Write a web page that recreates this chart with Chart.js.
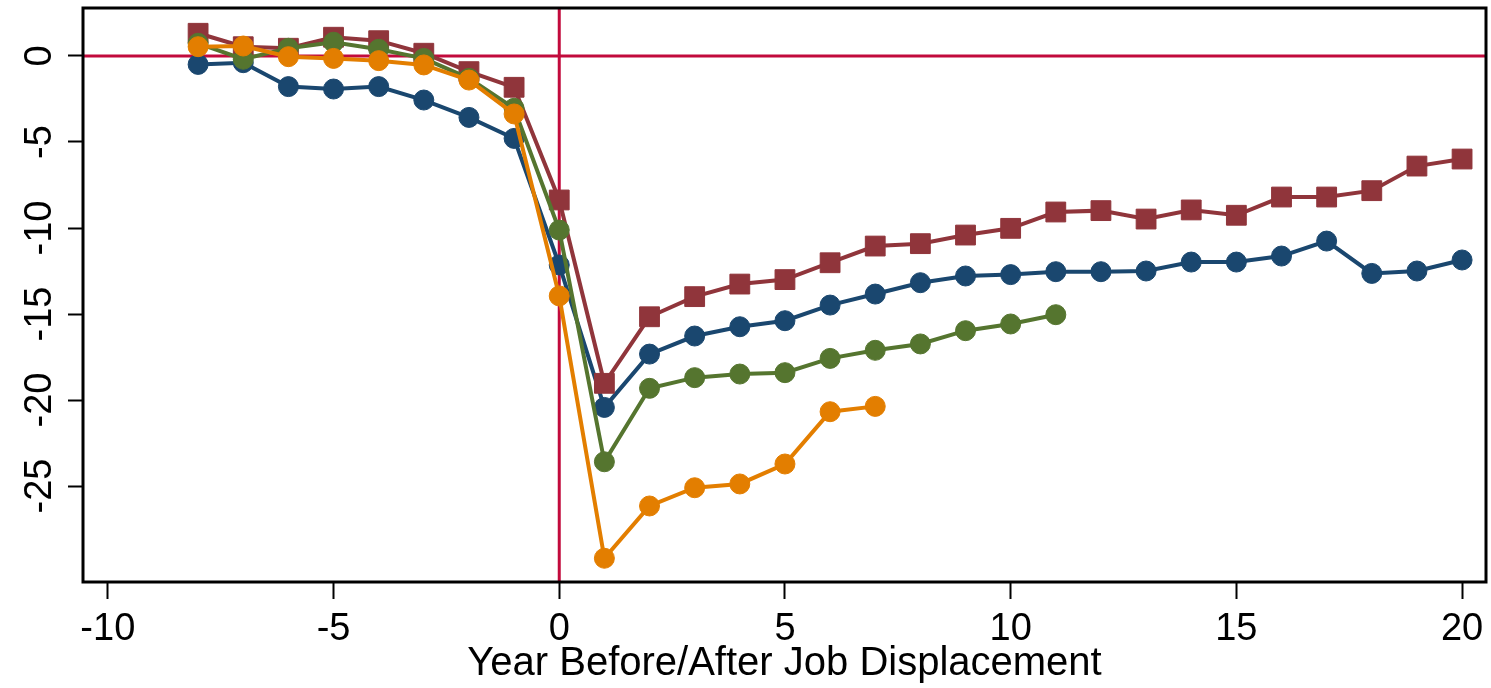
<!DOCTYPE html>
<html>
<head>
<meta charset="utf-8">
<title>Earnings losses around job displacement</title>
<script src="https://cdn.jsdelivr.net/npm/chart.js@4.4.1/dist/chart.umd.min.js"></script>
<style>
  html, body { margin: 0; padding: 0; background: #ffffff; }
  #wrap { width: 1491px; height: 688px; position: relative; }
</style>
</head>
<body>
<div id="wrap"><canvas id="c" width="1491" height="688"></canvas></div>
<script>
// Event time relative to displacement (years)
const years = [-8, -7, -6, -5, -4, -3, -2, -1, 0, 1, 2, 3, 4, 5, 6, 7, 8, 9, 10,
               11, 12, 13, 14, 15, 16, 17, 18, 19, 20];

// Estimated effects by event year (each series starts at year -8)
const navySeries = [-0.49, -0.39, -1.78, -1.92, -1.78, -2.56, -3.57, -4.79,
                    -12.15, -20.43, -17.33, -16.28, -15.74, -15.39, -14.48, -13.84, -13.18,
                    -12.79, -12.71, -12.54, -12.54, -12.50, -11.98, -11.98, -11.63, -10.76,
                    -12.64, -12.50, -11.86];
const maroonSeries = [1.32, 0.54, 0.45, 1.09, 0.89, 0.16, -0.91, -1.82,
                      -8.37, -19.03, -15.16, -13.99, -13.26, -13.00, -12.02, -11.05, -10.91,
                      -10.41, -10.02, -9.07, -8.99, -9.48, -8.95, -9.26, -8.20, -8.20,
                      -7.83, -6.40, -5.99];
const greenSeries = [0.74, -0.19, 0.45, 0.80, 0.39, -0.14, -1.30, -3.04,
                     -10.12, -23.59, -19.32, -18.70, -18.49, -18.41, -17.58, -17.11, -16.74,
                     -15.97, -15.58, -15.04];
const orangeSeries = [0.54, 0.58, -0.04, -0.14, -0.27, -0.52, -1.40, -3.37,
                      -13.95, -29.20, -26.16, -25.10, -24.88, -23.72, -20.68, -20.37];

// Axis ticks
const xTickValues = [-10, -5, 0, 5, 10, 15, 20];
const yTickValues = [-25, -20, -15, -10, -5, 0];

const FONT = '"Liberation Sans", Arial, Helvetica, sans-serif';
const REF_COLOR = '#c20a3c';

function toPoints(values) {
  return values.map((v, i) => ({ x: years[i], y: v }));
}

function series(label, values, color, style, radius, order) {
  return {
    label,
    data: toPoints(values),
    borderColor: color,
    backgroundColor: color,
    borderWidth: 4,
    pointStyle: style,
    pointRadius: radius,
    pointBorderWidth: 1,
    pointBackgroundColor: color,
    pointBorderColor: color,
    tension: 0,
    order
  };
}

// Fixed axis box sizes, with no extra room reserved for overhanging labels
function fixSize(prop, size) {
  return s => {
    s[prop] = size;
    s.paddingLeft = s.paddingRight = s.paddingTop = s.paddingBottom = 0;
  };
}

// Reference lines at zero and the black plot frame
const framePlugin = {
  id: 'framePlugin',
  beforeDatasetsDraw(chart) {
    const { ctx, chartArea: a, scales: { x, y } } = chart;
    const x0 = x.getPixelForValue(0);
    const y0 = y.getPixelForValue(0);
    ctx.save();
    ctx.strokeStyle = REF_COLOR;
    ctx.lineWidth = 3;
    ctx.beginPath();
    ctx.moveTo(a.left, y0);
    ctx.lineTo(a.right, y0);
    ctx.moveTo(x0, a.top);
    ctx.lineTo(x0, a.bottom);
    ctx.stroke();
    ctx.restore();
  },
  afterDraw(chart) {
    const { ctx, chartArea: a } = chart;
    ctx.save();
    ctx.strokeStyle = '#000000';
    ctx.lineWidth = 3;
    ctx.strokeRect(a.left, a.top, a.right - a.left, a.bottom - a.top);
    ctx.restore();
  }
};

new Chart(document.getElementById('c'), {
  type: 'line',
  data: {
    datasets: [
      series('Navy', navySeries, '#1a476f', 'circle', 10, 3),
      series('Maroon', maroonSeries, '#90353b', 'rect', 14, 2),
      series('Green', greenSeries, '#55752f', 'circle', 10, 1),
      series('Orange', orangeSeries, '#e37e00', 'circle', 10, 0)
    ]
  },
  options: {
    responsive: false,
    animation: false,
    layout: { autoPadding: false, padding: { top: 8, right: 5, left: 0, bottom: 0 } },
    plugins: {
      legend: { display: false },
      tooltip: { enabled: false }
    },
    scales: {
      x: {
        type: 'linear',
        min: -10.55,
        max: 20.53,
        afterBuildTicks: s => { s.ticks = xTickValues.map(v => ({ value: v })); },
        afterFit: fixSize('height', 106),
        border: { display: false },
        grid: {
          drawOnChartArea: false,
          drawTicks: true,
          tickLength: 17,
          tickWidth: 2,
          tickColor: '#000000'
        },
        ticks: {
          color: '#000000',
          font: { family: FONT, size: 38 },
          padding: 8,
          minRotation: 0,
          maxRotation: 0
        },
        title: {
          display: true,
          text: 'Year Before/After Job Displacement',
          color: '#000000',
          font: { family: FONT, size: 40 },
          padding: { top: 0, bottom: 0 }
        }
      },
      y: {
        type: 'linear',
        min: -30.58,
        max: 2.79,
        afterBuildTicks: s => { s.ticks = yTickValues.map(v => ({ value: v })); },
        afterFit: fixSize('width', 83),
        border: { display: false },
        grid: {
          drawOnChartArea: false,
          drawTicks: true,
          tickLength: 15,
          tickWidth: 2,
          tickColor: '#000000'
        },
        ticks: {
          color: '#000000',
          font: { family: FONT, size: 38 },
          padding: 0,
          minRotation: 90,
          maxRotation: 90,
          crossAlign: 'center'
        }
      }
    }
  },
  plugins: [framePlugin]
});
</script>
</body>
</html>
